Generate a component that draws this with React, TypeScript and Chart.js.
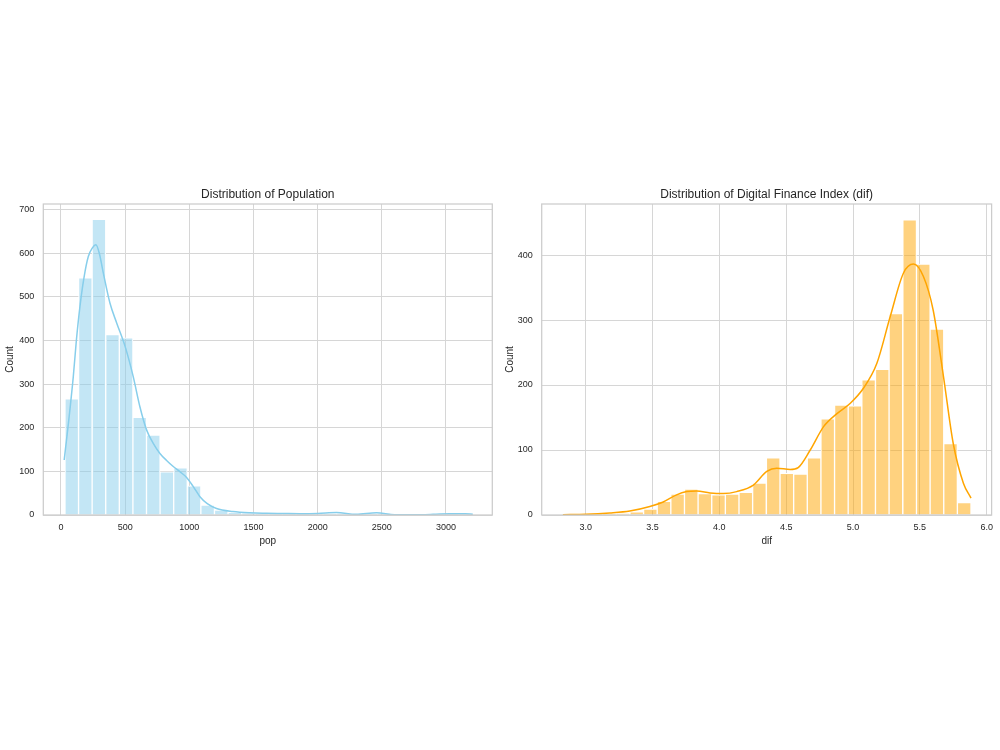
import React, { useEffect, useRef } from 'react';
import { Chart, registerables } from 'chart.js';

Chart.register(...registerables);

// ---------- Population panel data ----------
const popBinCenters = [84.0, 189.9, 295.8, 401.7, 507.6, 613.5, 719.4, 825.3, 931.2, 1037.1, 1143.0, 1248.9, 1354.8, 1460.7, 1566.6, 1672.5, 1778.4, 1884.3, 1990.2, 2096.1, 2202.0, 2307.9, 2413.8, 2519.7, 2625.6, 2731.5, 2837.4, 2943.3, 3049.2, 3155.1];
const popCounts = [266, 543, 677, 413, 406, 224, 183, 99, 108, 67, 23, 11, 6, 4, 2, 3, 2, 2, 1, 2, 3, 1, 2, 3, 1, 0, 0, 1, 2, 2];
const popKdeX = [25, 60, 96, 120, 148, 180, 213, 245, 272, 300, 330, 382, 434, 498, 563, 615, 667, 719, 771, 823, 875, 927, 979, 1031, 1083, 1140, 1212, 1340, 1472, 1602, 1730, 1861, 2000, 2147, 2300, 2459, 2600, 2750, 2900, 3030, 3150, 3209];
const popKdeY = [126, 215, 317, 400, 478, 545, 592, 612, 619, 598, 554, 485, 440, 388, 317, 248, 195, 164, 141, 125, 111, 99, 86, 65, 42, 26, 15, 8, 5, 4, 3.5, 3, 3.5, 5.5, 1.5, 5, 0.5, 0.5, 1.5, 3, 3, 2];
const popXTicks = [0, 500, 1000, 1500, 2000, 2500, 3000];
const popXTickLabels = ['0', '500', '1000', '1500', '2000', '2500', '3000'];
const popYTicks = [0, 100, 200, 300, 400, 500, 600, 700];
const popYTickLabels = ['0', '100', '200', '300', '400', '500', '600', '700'];

// ---------- Digital Finance Index panel data ----------
const difBinCenters = [2.871, 2.973, 3.075, 3.177, 3.279, 3.382, 3.484, 3.586, 3.688, 3.790, 3.892, 3.994, 4.096, 4.198, 4.300, 4.403, 4.505, 4.607, 4.709, 4.811, 4.913, 5.015, 5.117, 5.219, 5.321, 5.424, 5.526, 5.628, 5.730, 5.832];
const difCounts = [1, 0, 1, 1, 2, 5, 9, 21, 32, 40, 33, 31, 32, 35, 49, 88, 64, 63, 88, 148, 169, 168, 208, 224, 310, 454, 386, 286, 110, 19];
const difKdeX = [2.83, 3.0, 3.18, 3.33, 3.48, 3.58, 3.68, 3.756, 3.83, 3.93, 4.03, 4.13, 4.255, 4.355, 4.43, 4.53, 4.59, 4.68, 4.78, 4.88, 4.98, 5.078, 5.178, 5.278, 5.377, 5.452, 5.527, 5.60, 5.677, 5.75, 5.826, 5.883];
const difKdeY = [0.5, 1, 3, 6, 13, 20, 31, 36, 37, 34, 33, 36, 46, 67, 72, 70, 73, 100, 136, 156, 172, 195, 233, 305, 372, 386, 367, 315, 213, 110, 49, 26];
const difXTicks = [3.0, 3.5, 4.0, 4.5, 5.0, 5.5, 6.0];
const difXTickLabels = ['3.0', '3.5', '4.0', '4.5', '5.0', '5.5', '6.0'];
const difYTicks = [0, 100, 200, 300, 400];
const difYTickLabels = ['0', '100', '200', '300', '400'];

const FONT = "'Liberation Sans', Arial, Helvetica, sans-serif";
const TEXT = '#262626';
const GRID = '#d6d6d6';

const framePlugin = {
  id: 'frame',
  afterDatasetsDraw(chart: any) {
    const { ctx, chartArea: a } = chart;
    ctx.save();
    ctx.strokeStyle = '#cccccc';
    ctx.lineWidth = 1.25;
    ctx.strokeRect(a.left, a.top, a.right - a.left, a.bottom - a.top);
    ctx.restore();
  },
};

interface PanelProps {
  title: string;
  xLabel: string;
  centers: number[];
  counts: number[];
  kdeX: number[];
  kdeY: number[];
  xTicks: number[];
  xTickLabels: string[];
  yTicks: number[];
  yTickLabels: string[];
  xMin: number;
  xMax: number;
  yMax: number;
  fill: string;
  line: string;
  axisWidth: number;
  padRight: number;
  left: number;
}

function Panel(p: PanelProps) {
  const ref = useRef<HTMLCanvasElement | null>(null);
  useEffect(() => {
    if (!ref.current) return;
    const chart = new Chart(ref.current, {
      type: 'bar',
      data: {
        datasets: [
          {
            type: 'bar',
            data: p.centers.map((x, i) => ({ x, y: p.counts[i] })),
            backgroundColor: p.fill,
            borderColor: '#ffffff',
            borderWidth: 1,
            barPercentage: 1,
            categoryPercentage: 1,
            order: 2,
          } as any,
          {
            type: 'line',
            data: p.kdeX.map((x, i) => ({ x, y: p.kdeY[i] })),
            borderColor: p.line,
            borderWidth: 1.5,
            pointRadius: 0,
            fill: false,
            cubicInterpolationMode: 'monotone',
            order: 1,
          } as any,
        ],
      },
      options: {
        responsive: false,
        animation: false,
        layout: { padding: { left: 0, right: p.padRight, top: 0, bottom: 0 } },
        plugins: {
          legend: { display: false },
          tooltip: { enabled: false },
          title: {
            display: true,
            text: p.title,
            fullSize: false,
            color: TEXT,
            font: { family: FONT, size: 12, weight: 'normal', lineHeight: 1.2 },
            padding: { top: 12.8, bottom: 1.8 },
          },
        },
        scales: {
          x: {
            type: 'linear',
            offset: false,
            min: p.xMin,
            max: p.xMax,
            afterBuildTicks: (axis: any) => {
              axis.ticks = p.xTicks.map((v) => ({ value: v }));
            },
            afterFit: (axis: any) => {
              axis.height = 50;
            },
            ticks: {
              color: TEXT,
              font: { family: FONT, size: 9 },
              padding: 7,
              maxRotation: 0,
              autoSkip: false,
              callback: (_v: any, i: number) => p.xTickLabels[i],
            },
            grid: { color: GRID, lineWidth: 1, drawTicks: false, offset: false },
            border: { display: false },
            title: {
              display: true,
              text: p.xLabel,
              color: TEXT,
              font: { family: FONT, size: 10, lineHeight: 1.2 },
              padding: { top: 0, bottom: 17.3 },
            },
          },
          y: {
            type: 'linear',
            min: 0,
            max: p.yMax,
            afterBuildTicks: (axis: any) => {
              axis.ticks = p.yTicks.map((v) => ({ value: v }));
            },
            afterFit: (axis: any) => {
              axis.width = p.axisWidth;
            },
            ticks: {
              color: TEXT,
              font: { family: FONT, size: 9 },
              padding: 9,
              autoSkip: false,
              callback: (_v: any, i: number) => p.yTickLabels[i],
            },
            grid: { color: GRID, lineWidth: 1, drawTicks: false },
            border: { display: false },
            title: {
              display: true,
              text: 'Count',
              color: TEXT,
              font: { family: FONT, size: 10, lineHeight: 1.2 },
              padding: { top: 4, bottom: 0 },
            },
          },
        },
      },
      plugins: [framePlugin],
    } as any);
    return () => chart.destroy();
  }, []);
  return (
    <canvas
      ref={ref}
      width={500}
      height={390}
      style={{ position: 'absolute', left: p.left, top: 175, width: 500, height: 390 }}
    />
  );
}

export default function App() {
  return (
    <div style={{ position: 'absolute', left: 0, top: 0, width: 1000, height: 750, background: '#ffffff' }}>
      <Panel
        title="Distribution of Population"
        xLabel="pop"
        centers={popBinCenters}
        counts={popCounts}
        kdeX={popKdeX}
        kdeY={popKdeY}
        xTicks={popXTicks}
        xTickLabels={popXTickLabels}
        yTicks={popYTicks}
        yTickLabels={popYTickLabels}
        xMin={-137.7}
        xMax={3360.9}
        yMax={712.4}
        fill="rgba(135,206,235,0.5)"
        line="#87CEEB"
        axisWidth={43.3}
        padRight={7.7}
        left={0}
      />
      <Panel
        title="Distribution of Digital Finance Index (dif)"
        xLabel="dif"
        centers={difBinCenters}
        counts={difCounts}
        kdeX={difKdeX}
        kdeY={difKdeY}
        xTicks={difXTicks}
        xTickLabels={difXTickLabels}
        yTicks={difYTicks}
        yTickLabels={difYTickLabels}
        xMin={2.6708}
        xMax={6.0372}
        yMax={478.5}
        fill="rgba(255,165,0,0.5)"
        line="#FFA500"
        axisWidth={41.7}
        padRight={8.3}
        left={500}
      />
    </div>
  );
}
